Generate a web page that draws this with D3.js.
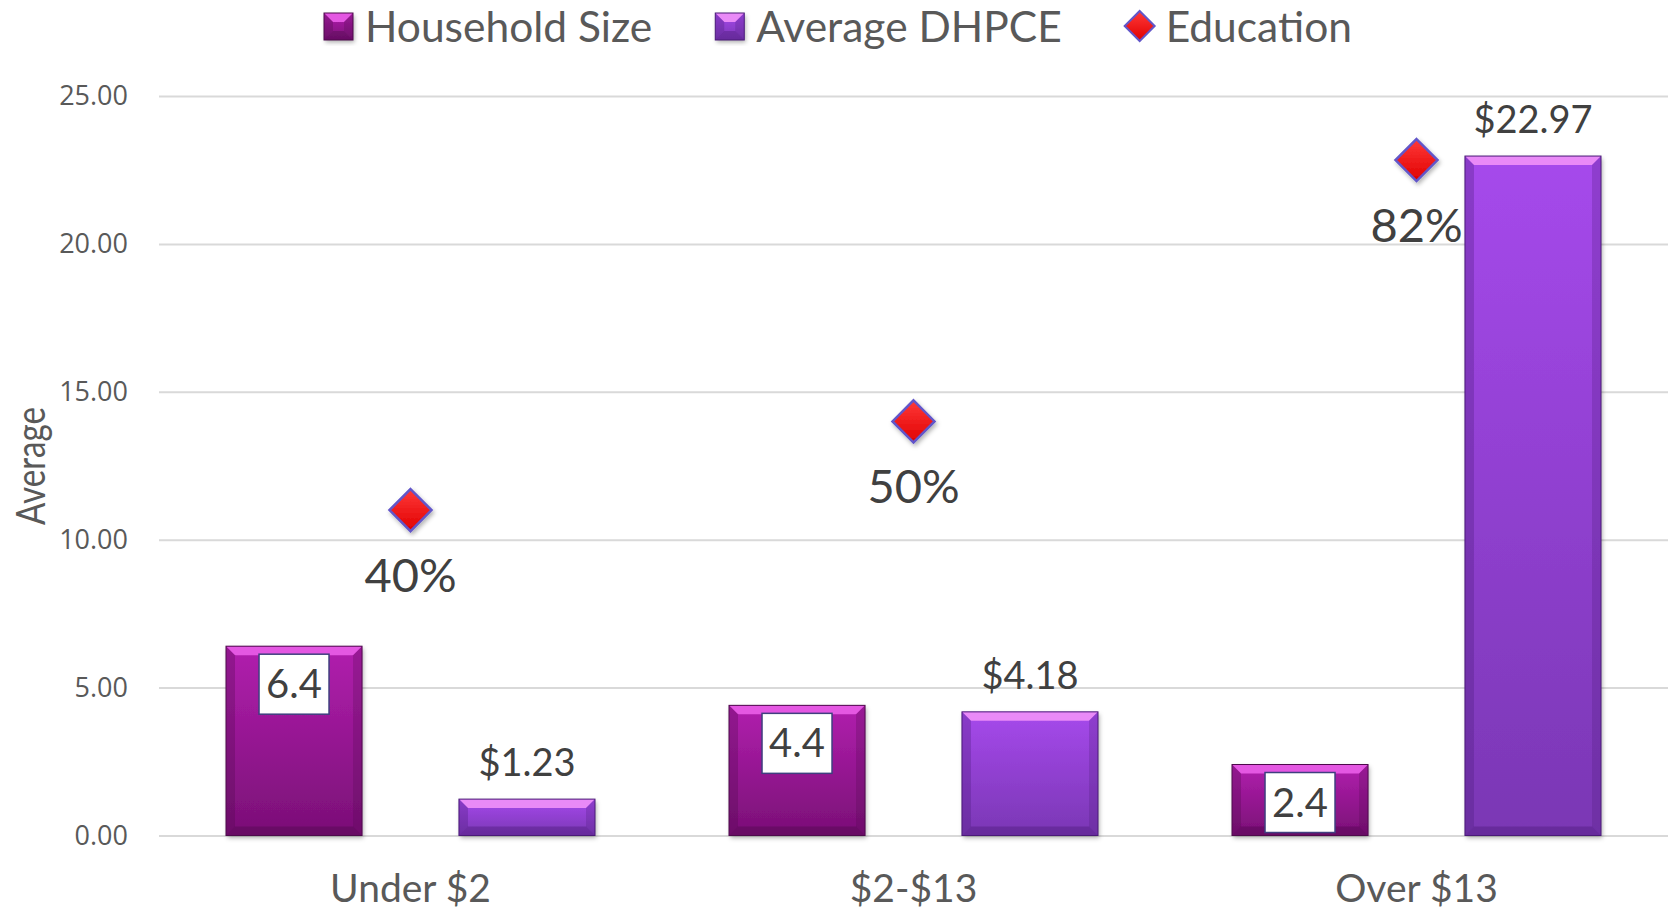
<!DOCTYPE html>
<html>
<head>
<meta charset="utf-8">
<script src="https://cdnjs.cloudflare.com/ajax/libs/d3/7.8.5/d3.min.js"></script>
<style>
  body { margin: 0; padding: 0; background: #fff; }
  svg { display: block; }
</style>
</head>
<body>
<script>
// chart data
var categories = ['Under $2', '$2-$13', 'Over $13'];
var householdSize = [6.4, 4.4, 2.4];
var averageDhpce = [1.23, 4.18, 22.97];
var education = [39.6, 50.4, 82.2];   // percent, plotted on a hidden 0-90 axis
var yTicks = [0, 5, 10, 15, 20, 25];
var seriesNames = ['Household Size', 'Average DHPCE', 'Education'];

var W = 1669, H = 910;
var labelFont = 'Lato, "Open Sans", sans-serif';
var tickFont = '"Open Sans", "Noto Sans", sans-serif';

var svg = d3.select('body').append('svg')
  .attr('width', W)
  .attr('height', H);

var defs = svg.append('defs');

function vGrad(id, c1, c2) {
  var g = defs.append('linearGradient').attr('id', id)
    .attr('x1', 0).attr('y1', 0).attr('x2', 0).attr('y2', 1);
  g.append('stop').attr('offset', '0%').attr('stop-color', c1);
  g.append('stop').attr('offset', '100%').attr('stop-color', c2);
}
vGrad('hhBody', '#b11fae', '#7a0f76');
vGrad('dpBody', '#a649ec', '#7a37b4');
vGrad('redFill', '#ff3a3a', '#e00000');

var shadow = defs.append('filter').attr('id', 'shadow')
  .attr('x', '-20%').attr('y', '-20%').attr('width', '140%').attr('height', '140%');
shadow.append('feDropShadow')
  .attr('dx', 1.5).attr('dy', 2.5).attr('stdDeviation', 2)
  .attr('flood-color', '#000').attr('flood-opacity', 0.3);

// scales
var plotLeft = 159, plotRight = 1668, plotTop = 96, plotBottom = 835.5;

var x0 = d3.scaleBand()
  .domain(categories)
  .range([plotLeft, plotRight])
  .padding(0);

var x1 = d3.scaleBand()
  .domain(['hh', 'dp'])
  .range([0, x0.bandwidth()])
  .paddingInner(0.416)
  .paddingOuter(0.2876);

var y = d3.scaleLinear().domain([0, 25]).range([plotBottom, plotTop]);
var y2 = d3.scaleLinear().domain([0, 90]).range([plotBottom, plotTop]);

// gridlines + tick labels
var yAxis = d3.axisLeft(y)
  .tickValues(yTicks)
  .tickFormat(d3.format('.2f'))
  .tickSize(-(plotRight - plotLeft))
  .tickPadding(31);

var gy = svg.append('g')
  .attr('transform', 'translate(' + plotLeft + ',0)')
  .call(yAxis);
gy.select('.domain').remove();
gy.selectAll('.tick line')
  .attr('stroke', '#d9d9d9')
  .attr('stroke-width', 2);
gy.selectAll('.tick text')
  .attr('fill', '#595959')
  .style('font-family', tickFont)
  .style('font-size', '27px');

// y axis title
svg.append('text')
  .attr('transform', 'translate(45,466) rotate(-90)')
  .attr('text-anchor', 'middle')
  .attr('fill', '#595959')
  .attr('textLength', 118)
  .attr('lengthAdjust', 'spacingAndGlyphs')
  .style('font-family', labelFont)
  .style('font-size', '40px')
  .text('Average');

// category labels
svg.append('g').selectAll('text')
  .data(categories)
  .enter().append('text')
  .attr('x', function(d) { return x0(d) + x0.bandwidth() / 2; })
  .attr('y', 902)
  .attr('text-anchor', 'middle')
  .attr('fill', '#595959')
  .style('font-family', labelFont)
  .style('font-size', '39px')
  .text(function(d) { return d; });

// beveled bars
function drawBar(g, bx, by, bw, bh, body, light, dark) {
  var b = Math.min(9, bh / 2.2);
  var bx2 = bx + bw, by2 = by + bh;
  g.append('rect')
    .attr('x', bx).attr('y', by).attr('width', bw).attr('height', bh)
    .attr('fill', body)
    .attr('filter', 'url(#shadow)');
  g.append('path')
    .attr('d', 'M' + bx + ',' + by + 'L' + bx2 + ',' + by + 'L' + (bx2 - b) + ',' + (by + b) + 'L' + (bx + b) + ',' + (by + b) + 'Z')
    .attr('fill', light);
  g.append('path')
    .attr('d', 'M' + bx + ',' + by + 'L' + (bx + b) + ',' + (by + b) + 'L' + (bx + b) + ',' + (by2 - b) + 'L' + bx + ',' + by2 + 'Z')
    .attr('fill', dark).attr('opacity', 0.3);
  g.append('path')
    .attr('d', 'M' + bx2 + ',' + by + 'L' + (bx2 - b) + ',' + (by + b) + 'L' + (bx2 - b) + ',' + (by2 - b) + 'L' + bx2 + ',' + by2 + 'Z')
    .attr('fill', dark).attr('opacity', 0.25);
  g.append('path')
    .attr('d', 'M' + bx + ',' + by2 + 'L' + (bx + b) + ',' + (by2 - b) + 'L' + (bx2 - b) + ',' + (by2 - b) + 'L' + bx2 + ',' + by2 + 'Z')
    .attr('fill', dark).attr('opacity', 0.4);
  g.append('rect')
    .attr('x', bx).attr('y', by).attr('width', bw).attr('height', bh)
    .attr('fill', 'none')
    .attr('stroke', dark).attr('stroke-width', 1);
}

var bars = svg.append('g');
categories.forEach(function(c, i) {
  var gx = x0(c);
  var bw = x1.bandwidth();
  drawBar(bars, gx + x1('hh'), y(householdSize[i]), bw, y(0) - y(householdSize[i]),
    'url(#hhBody)', '#e457e2', '#4e0a4c');
  drawBar(bars, gx + x1('dp'), y(averageDhpce[i]), bw, y(0) - y(averageDhpce[i]),
    'url(#dpBody)', '#e98af7', '#4a1a78');
});

// household size labels in white boxes
var hhLab = svg.append('g').selectAll('g')
  .data(householdSize)
  .enter().append('g')
  .attr('transform', function(d, i) {
    return 'translate(' + (x0(categories[i]) + x1('hh') + x1.bandwidth() / 2) + ',' + (y(d) + 8) + ')';
  });
hhLab.append('rect')
  .attr('x', -35).attr('y', 0).attr('width', 70).attr('height', 60)
  .attr('fill', '#fff')
  .attr('stroke', '#3f3f7f').attr('stroke-width', 1.5);
hhLab.append('text')
  .attr('x', 0).attr('y', 44)
  .attr('text-anchor', 'middle')
  .attr('fill', '#404040')
  .style('font-family', labelFont)
  .style('font-size', '40px')
  .text(function(d) { return d3.format('.1f')(d); });

// DHPCE labels above bars
svg.append('g').selectAll('text')
  .data(averageDhpce)
  .enter().append('text')
  .attr('x', function(d, i) { return x0(categories[i]) + x1('dp') + x1.bandwidth() / 2; })
  .attr('y', function(d) { return y(d) - 23; })
  .attr('text-anchor', 'middle')
  .attr('fill', '#404040')
  .style('font-family', labelFont)
  .style('font-size', '38px')
  .text(function(d) { return '$' + d3.format('.2f')(d); });

// education markers
function diamond(cx, cy, r) {
  return 'M' + cx + ',' + (cy - r) + 'L' + (cx + r) + ',' + cy + 'L' + cx + ',' + (cy + r) + 'L' + (cx - r) + ',' + cy + 'Z';
}
var edu = svg.append('g');
edu.selectAll('path')
  .data(education)
  .enter().append('path')
  .attr('d', function(d, i) { return diamond(x0(categories[i]) + x0.bandwidth() / 2, y2(d), 21); })
  .attr('fill', 'url(#redFill)')
  .attr('stroke', '#6256c9')
  .attr('stroke-width', 2.5)
  .attr('filter', 'url(#shadow)');
edu.selectAll('text')
  .data(education)
  .enter().append('text')
  .attr('x', function(d, i) { return x0(categories[i]) + x0.bandwidth() / 2; })
  .attr('y', function(d) { return y2(d) + 82; })
  .attr('text-anchor', 'middle')
  .attr('fill', '#404040')
  .style('font-family', labelFont)
  .style('font-size', '47px')
  .text(function(d) { return d3.format('.0f')(d) + '%'; });

// legend
var legend = svg.append('g');
var cursor = 324;
seriesNames.forEach(function(name, i) {
  var item = legend.append('g');
  if (i < 2) {
    drawBar(item, cursor, 13, 29, 27, i === 0 ? 'url(#hhBody)' : 'url(#dpBody)',
      i === 0 ? '#e457e2' : '#e98af7', i === 0 ? '#4e0a4c' : '#4a1a78');
  } else {
    item.append('path')
      .attr('d', diamond(cursor + 15, 26, 15))
      .attr('fill', 'url(#redFill)')
      .attr('stroke', '#6256c9')
      .attr('stroke-width', 2);
  }
  var t = item.append('text')
    .attr('x', cursor + 41)
    .attr('y', 42)
    .attr('fill', '#595959')
    .style('font-family', labelFont)
    .style('font-size', '42.5px')
    .text(name);
  cursor += 41 + t.node().getComputedTextLength() + 63;
});
</script>
</body>
</html>
